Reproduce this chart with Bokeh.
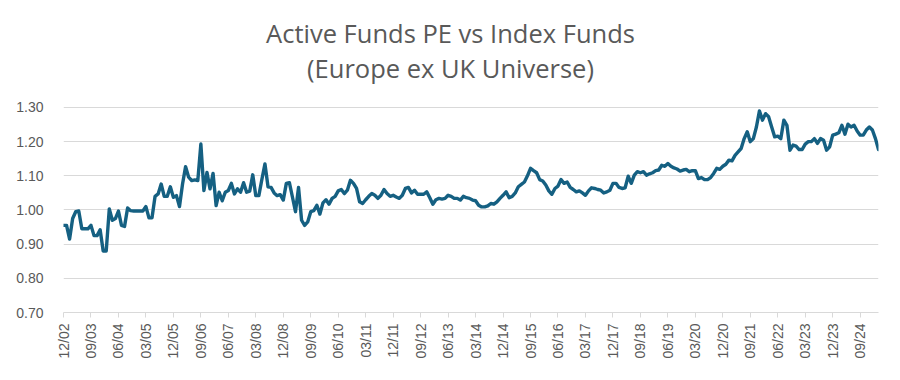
import math
from bokeh.plotting import figure
from bokeh.models import Range1d, FixedTicker, NumeralTickFormatter, Label
from bokeh.embed import file_html
from bokeh.resources import INLINE

# Monthly ratio of active-fund PE to index-fund PE, Dec 2002 .. Mar 2025
pe_ratio = [
    0.955, 0.955, 0.915, 0.975, 0.995, 0.997, 0.945, 0.945, 0.945, 0.955,
    0.925, 0.925, 0.942, 0.880, 0.880, 1.003, 0.970, 0.975, 0.997, 0.955,
    0.952, 1.006, 0.998, 0.997, 0.997, 0.997, 0.997, 1.010, 0.977, 0.977,
    1.040, 1.047, 1.076, 1.040, 1.040, 1.068, 1.037, 1.042, 1.010, 1.076,
    1.127, 1.096, 1.086, 1.088, 1.086, 1.193, 1.057, 1.110, 1.062, 1.107,
    1.013, 1.052, 1.027, 1.052, 1.057, 1.078, 1.047, 1.062, 1.052, 1.080,
    1.052, 1.055, 1.103, 1.042, 1.042, 1.090, 1.135, 1.068, 1.066, 1.050,
    1.042, 1.045, 1.029, 1.078, 1.080, 1.038, 0.995, 1.066, 0.970, 0.955,
    0.965, 0.995, 0.998, 1.014, 0.988, 1.021, 1.030, 1.017, 1.034, 1.040,
    1.056, 1.060, 1.048, 1.058, 1.087, 1.078, 1.063, 1.024, 1.019, 1.030,
    1.040, 1.048, 1.043, 1.034, 1.043, 1.060, 1.048, 1.040, 1.043, 1.038,
    1.034, 1.043, 1.063, 1.066, 1.050, 1.058, 1.046, 1.046, 1.046, 1.053,
    1.036, 1.017, 1.030, 1.034, 1.032, 1.034, 1.043, 1.040, 1.034, 1.034,
    1.029, 1.040, 1.036, 1.034, 1.029, 1.027, 1.014, 1.009, 1.009, 1.012,
    1.019, 1.017, 1.024, 1.034, 1.043, 1.053, 1.036, 1.040, 1.050, 1.068,
    1.075, 1.082, 1.100, 1.122, 1.115, 1.109, 1.089, 1.085, 1.073, 1.056,
    1.046, 1.063, 1.070, 1.089, 1.078, 1.082, 1.066, 1.060, 1.053, 1.056,
    1.050, 1.043, 1.056, 1.065, 1.063, 1.060, 1.058, 1.050, 1.053, 1.058,
    1.078, 1.078, 1.066, 1.063, 1.065, 1.099, 1.078, 1.102, 1.112, 1.109,
    1.112, 1.102, 1.106, 1.109, 1.115, 1.117, 1.131, 1.128, 1.136, 1.128,
    1.123, 1.120, 1.114, 1.117, 1.119, 1.112, 1.115, 1.115, 1.092, 1.095,
    1.089, 1.089, 1.095, 1.107, 1.122, 1.119, 1.128, 1.134, 1.146, 1.144,
    1.160, 1.170, 1.180, 1.209, 1.229, 1.200, 1.209, 1.243, 1.290, 1.263,
    1.282, 1.273, 1.243, 1.214, 1.216, 1.209, 1.263, 1.248, 1.175, 1.190,
    1.187, 1.177, 1.177, 1.193, 1.200, 1.200, 1.209, 1.195, 1.209, 1.204,
    1.175, 1.185, 1.219, 1.222, 1.226, 1.248, 1.222, 1.251, 1.243, 1.248,
    1.231, 1.219, 1.219, 1.234, 1.243, 1.234, 1.209, 1.177,
]
month_index = list(range(len(pe_ratio)))

tick_positions = list(range(0, 262, 9))
tick_labels = [
    "12/02", "09/03", "06/04", "03/05", "12/05", "09/06", "06/07", "03/08",
    "12/08", "09/09", "06/10", "03/11", "12/11", "09/12", "06/13", "03/14",
    "12/14", "09/15", "06/16", "03/17", "12/17", "09/18", "06/19", "03/20",
    "12/20", "09/21", "06/22", "03/23", "12/23", "09/24",
]
y_ticks = [0.70, 0.80, 0.90, 1.00, 1.10, 1.20, 1.30]
title_lines = ["Active Funds PE vs Index Funds", "(Europe ex UK Universe)"]

GREY = "#595959"
FONT = "Liberation Sans"
TITLE_FONT = "Open Sans"

# The frame reaches the top of the canvas so the title can sit inside it;
# the visible value axis is 0.70 .. 1.30 (gridlines only at y_ticks).
Y_TOP = 1.30 + 107 / 341.67
p = figure(width=900, height=380, output_backend="svg", toolbar_location=None,
           x_range=Range1d(0, len(pe_ratio) - 1), y_range=Range1d(0.70, Y_TOP),
           min_border_left=63, min_border_right=22, min_border_top=0,
           min_border_bottom=68)

TITLE_X = (len(pe_ratio) - 1) * (450 - 63) / (878 - 63)
for txt, y_pos in zip(title_lines, [Y_TOP - 33 / 341.67, Y_TOP - 68 / 341.67]):
    p.add_layout(Label(x=TITLE_X, y=y_pos, text=txt, text_align="center",
                       text_baseline="middle", text_font=TITLE_FONT,
                       text_font_size="25.5px", text_color=GREY))

p.outline_line_color = None
p.background_fill_color = "white"
p.border_fill_color = "white"

p.line(month_index, pe_ratio, line_color="#156082", line_width=3.4,
       line_join="round", line_cap="round")

# y axis
p.yaxis.ticker = FixedTicker(ticks=y_ticks)
p.yaxis.formatter = NumeralTickFormatter(format="0.00")
p.yaxis.axis_line_color = None
p.yaxis.major_tick_line_color = None
p.yaxis.minor_tick_line_color = None
p.yaxis.major_label_text_font = FONT
p.yaxis.major_label_text_font_size = "14px"
p.yaxis.major_label_text_color = GREY
p.yaxis.major_label_standoff = 14

# x axis
p.xaxis.ticker = FixedTicker(ticks=tick_positions)
p.xaxis.major_label_overrides = {t: l for t, l in zip(tick_positions, tick_labels)}
p.xaxis.major_label_orientation = math.pi / 2
p.xaxis.axis_line_color = "#d9d9d9"
p.xaxis.major_tick_line_color = "#d9d9d9"
p.xaxis.major_tick_in = 0
p.xaxis.major_tick_out = 5
p.xaxis.minor_tick_line_color = None
p.xaxis.major_label_text_font = FONT
p.xaxis.major_label_text_font_size = "14px"
p.xaxis.major_label_text_color = GREY
p.xaxis.major_label_standoff = 6

p.xgrid.grid_line_color = None
p.ygrid.grid_line_color = "#d9d9d9"
p.ygrid.grid_line_width = 1

open("out.html", "w").write(file_html(p, INLINE))
